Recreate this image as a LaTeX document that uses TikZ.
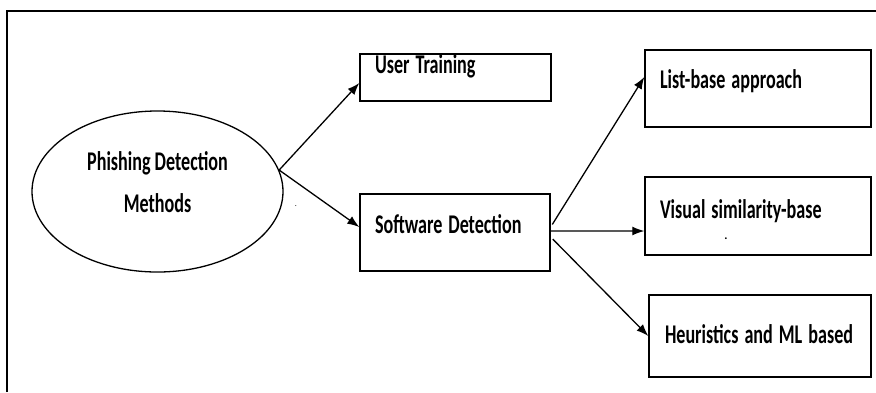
\documentclass[tikz,border=0pt]{standalone}
\usepackage{fontspec}
\setmainfont{Carlito}
\usepackage{graphicx}
\usepackage{tikz}
\usetikzlibrary{arrows.meta}
\usetikzlibrary{shapes.geometric}
\newcommand{\sqz}[1]{\scalebox{0.67}[1]{#1}}
\tikzset{lbl/.style={font=\bfseries\fontsize{27bp}{32bp}\selectfont},
  box/.style={lbl, draw, rectangle, line width=1.4bp, inner xsep=15bp, inner ysep=0bp, align=left}}

\begin{document}
\begin{tikzpicture}[x=1bp,y=-1bp,>={Latex[length=12bp,width=9bp]},line width=1.3bp]
\useasboundingbox (0,0) rectangle (876,392);
%% frame
\draw [line width=1.4bp] (7,392) -- (7,11) -- (876,11);
%%
  \node (pdm) at (157.5,191.5) [draw,ellipse,line width=1.3bp,minimum width=251bp,minimum height=161bp] {};
  \node (pdm_l1) at (157.5,170) [lbl,anchor=base] {\sqz{Phishing Detection}};
  \node (pdm_l2) at (157.5,212.7) [lbl,anchor=base] {\sqz{Methods}};
  \node (user_tr) at (455.5,77.5) [box,text width=161bp,text height=19bp,text depth=28bp] {\sqz{User Training}};
  \node (sw_det) at (455,232.5) [box,text width=160bp,text height=39bp,text depth=38bp] {\sqz{Software Detection}};
  \node (list_b) at (758,88.5) [box,text width=196bp,text height=38bp,text depth=39bp] {\sqz{List-base approach}};
  \node (vis_sim) at (758,216) [box,text width=196bp,text height=41bp,text depth=37bp] {\sqz{Visual similarity-base}};
  \node (heur_ml) at (760,336) [box,inner xsep=16bp,text width=190bp,text height=48bp,text depth=34bp] {\sqz{Heuristics and ML based}};
  \node (vis_dot) at (726,239) [font=\bfseries\fontsize{12bp}{14bp}\selectfont] {.};
  \node (pdm_dot) at (296,206) [font=\fontsize{8bp}{10bp}\selectfont] {.};
  \coordinate (fork) at (pdm.10);
%%
  \draw [->] (fork) -- ([yshift=-5.5bp]user_tr.west);
  \draw [->] (fork) -- ([yshift=5.5bp]sw_det.west);
  \draw [->,shorten <=3bp] ([yshift=5.5bp]sw_det.east) -- ([yshift=11.5bp]list_b.west);
  \draw [->] ([yshift=1.5bp]sw_det.east) -- ([yshift=-15bp]vis_sim.west);
  \draw [->,shorten <=3bp] ([yshift=-4.5bp]sw_det.east) -- (heur_ml.west);
%
\end{tikzpicture}
\end{document}
